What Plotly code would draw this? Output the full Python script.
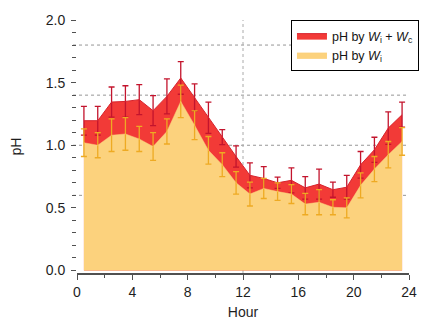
import plotly.graph_objects as go

hours = [h + 0.5 for h in range(24)]

ph_total = [1.196, 1.196, 1.345, 1.35, 1.364, 1.276, 1.39, 1.537,
            1.38, 1.22, 1.065, 0.91, 0.76, 0.735, 0.70, 0.72,
            0.66, 0.69, 0.645, 0.665, 0.844, 0.964, 1.137, 1.244]
ph_total_err = [0.115, 0.115, 0.12, 0.125, 0.12, 0.12, 0.14, 0.13,
                0.11, 0.125, 0.06, 0.085, 0.10, 0.095, 0.045, 0.10,
                0.09, 0.12, 0.06, 0.095, 0.106, 0.10, 0.13, 0.10]

ph_wi = [1.02, 1.00, 1.08, 1.09, 1.05, 0.99, 1.11, 1.35,
         1.16, 0.96, 0.845, 0.70, 0.61, 0.655, 0.63, 0.61,
         0.53, 0.545, 0.505, 0.50, 0.68, 0.81, 0.925, 1.03]
ph_wi_err = [0.11, 0.10, 0.13, 0.13, 0.10, 0.11, 0.10, 0.13,
             0.115, 0.11, 0.095, 0.09, 0.095, 0.08, 0.07, 0.075,
             0.085, 0.10, 0.06, 0.08, 0.10, 0.10, 0.105, 0.11]

grid_y = [0.6, 1.0, 1.4, 1.8]
grid_x = [12]

x_ticks = [0, 4, 8, 12, 16, 20, 24]
y_ticks = [0.0, 0.5, 1.0, 1.5, 2.0]

RED_FILL = "rgb(242,58,55)"
RED_ERR = "rgb(195,20,45)"
YEL_FILL = "rgb(252,210,125)"
YEL_ERR = "rgb(238,170,35)"

fig = go.Figure()
fig.add_trace(go.Scatter(
    x=hours, y=ph_total, mode="lines", fill="tozeroy",
    fillcolor=RED_FILL, line=dict(color="rgb(215,35,45)", width=1),
    error_y=dict(type="data", array=ph_total_err, color=RED_ERR,
                 thickness=1.3, width=3),
    name="pH by <i>W</i><sub>i</sub> + <i>W</i><sub>c</sub>",
))
fig.add_trace(go.Scatter(
    x=hours, y=ph_wi, mode="lines", fill="tozeroy",
    fillcolor=YEL_FILL, line=dict(color=YEL_FILL, width=0.5),
    error_y=dict(type="data", array=ph_wi_err, color=YEL_ERR,
                 thickness=1.3, width=3),
    name="pH by <i>W</i><sub>i</sub>",
))

shapes = []
for g in grid_y:
    shapes.append(dict(type="line", xref="paper", yref="y", x0=-0.012, x1=1,
                       y0=g, y1=g, layer="below",
                       line=dict(color="rgb(150,150,150)", width=1, dash="dot")))
for g in grid_x:
    shapes.append(dict(type="line", xref="x", yref="paper", x0=g, x1=g,
                       y0=0, y1=1, layer="below",
                       line=dict(color="rgb(170,170,170)", width=1, dash="dot")))

font_family = "Liberation Sans, Arial, sans-serif"

fig.update_layout(
    width=427, height=320,
    margin=dict(l=77, r=8, t=20, b=47),
    paper_bgcolor="white", plot_bgcolor="white",
    font=dict(family=font_family, size=14, color="rgb(30,30,30)"),
    shapes=shapes,
    showlegend=True,
    legend=dict(
        x=1.03, xanchor="right", y=1.0, yanchor="top",
        bgcolor="white", bordercolor="black", borderwidth=1,
        font=dict(size=12.5, color="rgb(20,20,20)"),
        traceorder="normal", tracegroupgap=0,
        itemwidth=30,
    ),
    xaxis=dict(
        range=[0, 24], tickvals=x_ticks, ticks="outside", ticklen=5,
        tickcolor="rgb(80,80,80)", showgrid=False, zeroline=False,
        showline=True, linecolor="rgb(80,80,80)", linewidth=2,
        minor=dict(dtick=2, ticks="outside", ticklen=3, tickcolor="rgb(80,80,80)"),
        title=dict(text="Hour", standoff=9, font=dict(size=14)),
        tickfont=dict(size=14),
        automargin=False,
    ),
    yaxis=dict(
        range=[-0.02, 2.0], tickvals=y_ticks, tickformat=".1f",
        ticks="outside", ticklen=5, tickcolor="rgb(80,80,80)",
        showgrid=False, zeroline=False, showline=False,
        minor=dict(dtick=0.1, tick0=0, ticks="outside", ticklen=4,
                   tickcolor="rgb(80,80,80)"),
        title=dict(text="pH", standoff=20, font=dict(size=14)),
        tickfont=dict(size=14),
        ticklabelstandoff=3,
        automargin=False,
    ),
)

fig.write_html("out.html")
